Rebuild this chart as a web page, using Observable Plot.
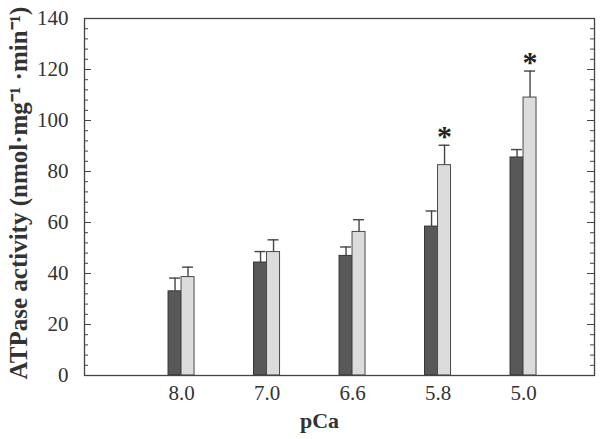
<!DOCTYPE html>
<html>
<head>
<meta charset="utf-8">
<script src="https://cdn.jsdelivr.net/npm/d3@7"></script>
<script src="https://cdn.jsdelivr.net/npm/@observablehq/plot@0.6"></script>
<style>
  html, body { margin: 0; padding: 0; background: #ffffff; }
  #chart { width: 600px; height: 439px; }
</style>
</head>
<body>
<div id="chart"></div>
<script>
// ---- data ----
const pCa = ["8.0", "7.0", "6.6", "5.8", "5.0"];
const control = [33.0, 44.3, 46.9, 58.4, 85.5];
const controlSD = [5.2, 4.3, 3.5, 6.1, 3.1];
const treated = [38.6, 48.4, 56.3, 82.5, 109.0];
const treatedSD = [3.9, 4.8, 4.8, 7.8, 10.4];
const significant = [false, false, false, true, true];
const yTicks = [0, 20, 40, 60, 80, 100, 120, 140];
const yMinorTicks = d3.range(0, 141, 4).filter(v => v % 20 !== 0);
const xTitle = "pCa";
const yTitle = "ATPase activity (nmol·mg⁻¹ ·min⁻¹)";

const rows = pCa.map((p, i) => ({
  i, p,
  control: control[i], controlSD: controlSD[i],
  treated: treated[i], treatedSD: treatedSD[i],
  sig: significant[i]
}));

const bw = 0.152;   // bar width in category units
const cap = 0.064;  // half cap width
const frameW = 600 - 84 - 6;
const serif = "'Liberation Serif', 'Times New Roman', serif";

const chart = Plot.plot({
  width: 600,
  height: 439,
  marginLeft: 84,
  marginRight: 6,
  marginTop: 18,
  marginBottom: 64,
  style: { fontFamily: serif, background: "#ffffff", color: "#333" },
  x: { domain: [-1.135, 4.83] },
  y: { domain: [0, 140] },
  marks: [
    // bars
    Plot.rect(rows, { x1: d => d.i - bw, x2: d => d.i, y1: 0, y2: "control", fill: "#585858", stroke: "#333", strokeWidth: 1 }),
    Plot.rect(rows, { x1: d => d.i, x2: d => d.i + bw, y1: 0, y2: "treated", fill: "#dcdcdc", stroke: "#4a4a4a", strokeWidth: 1 }),
    // error bars (upper only)
    Plot.ruleX(rows, { x: d => d.i - bw / 2, y1: "control", y2: d => d.control + d.controlSD, stroke: "#444", strokeWidth: 1.4 }),
    Plot.ruleY(rows, { y: d => d.control + d.controlSD, x1: d => d.i - bw / 2 - cap, x2: d => d.i - bw / 2 + cap, stroke: "#444", strokeWidth: 1.4 }),
    Plot.ruleX(rows, { x: d => d.i + bw / 2, y1: "treated", y2: d => d.treated + d.treatedSD, stroke: "#444", strokeWidth: 1.4 }),
    Plot.ruleY(rows, { y: d => d.treated + d.treatedSD, x1: d => d.i + bw / 2 - cap, x2: d => d.i + bw / 2 + cap, stroke: "#444", strokeWidth: 1.4 }),
    // significance asterisks
    Plot.text(rows.filter(d => d.sig), { x: d => d.i + bw / 2, y: d => d.treated + d.treatedSD, text: () => "*", fontSize: 30, fontWeight: "bold", fill: "#222", lineAnchor: "bottom", dy: 1 }),
    // frame
    Plot.frame({ stroke: "#444", strokeWidth: 1.3 }),
    // inner ticks (left & right)
    Plot.ruleY(yMinorTicks, { insetRight: frameW - 4, stroke: "#444" }),
    Plot.ruleY(yMinorTicks, { insetLeft: frameW - 4, stroke: "#444" }),
    Plot.ruleY(yTicks, { insetRight: frameW - 7, stroke: "#444" }),
    Plot.ruleY(yTicks, { insetLeft: frameW - 7, stroke: "#444" }),
    // axis labels
    Plot.axisY({ ticks: yTicks, tickSize: 0, tickPadding: 16, fontSize: 21, label: null, fill: "#333" }),
    Plot.axisX({ ticks: d3.range(pCa.length), tickFormat: i => pCa[i], tickSize: 0, tickPadding: 10, fontSize: 21, label: null, fill: "#333" }),
    // titles
    Plot.text([xTitle], { frameAnchor: "bottom", dx: -20, dy: 52, fontSize: 22, fontWeight: "bold", fill: "#333" }),
    Plot.text([yTitle], { frameAnchor: "left", textAnchor: "middle", rotate: -90, dx: -66, dy: -4, fontSize: 25, fontWeight: "bold", fill: "#333" })
  ]
});

document.getElementById("chart").appendChild(chart);
</script>
</body>
</html>
